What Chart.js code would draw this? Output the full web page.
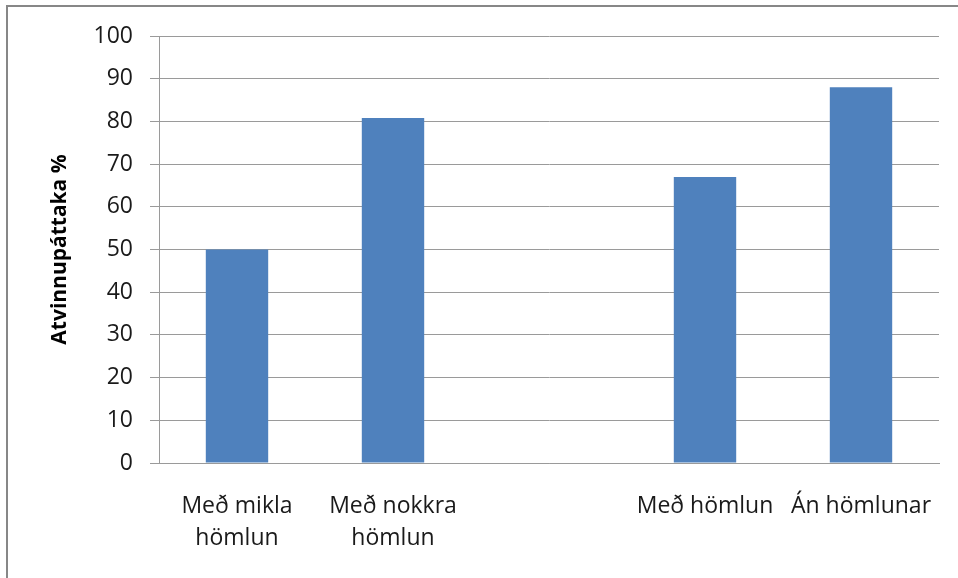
<!DOCTYPE html>
<html>
<head>
<meta charset="utf-8">
<script src="https://cdn.jsdelivr.net/npm/chart.js@4.4.1/dist/chart.umd.min.js"></script>
<style>
    html, body { margin: 0; padding: 0; background: #fff; }
    #wrap { position: relative; width: 958px; height: 578px; overflow: hidden; }
    #frame { position: absolute; left: 6px; top: 5px; width: 1100px; height: 800px; border: 2px solid #878787; }
    #app-chart { position: absolute; left: 0; top: 0; }
</style>
</head>
<body>
<div id="wrap">
    <div id="frame"></div>
    <canvas id="app-chart" width="958" height="578"></canvas>
</div>
<script>
//======================================================================================================================
// Data
//======================================================================================================================

var categories = [
    ['Með mikla', 'hömlun'],
    ['Með nokkra', 'hömlun'],
    '',
    'Með hömlun',
    'Án hömlunar'
];
var values = [50, 80.8, null, 67, 88];
var yTicks = [0, 10, 20, 30, 40, 50, 60, 70, 80, 90, 100];

//======================================================================================================================
// Chart
//======================================================================================================================

var font = '"Open Sans", "Liberation Sans", sans-serif';

new Chart(document.getElementById('app-chart'), {
    type: 'bar',
    data: {
        labels: categories,
        datasets: [{
            data: values,
            backgroundColor: '#4f81bd',
            borderWidth: 0,
            barPercentage: 0.4,
            categoryPercentage: 1
        }]
    },
    options: {
        responsive: false,
        animation: false,
        layout: {
            padding: { left: 0, top: 36, right: 19, bottom: 0 }
        },
        plugins: {
            legend: { display: false },
            tooltip: { enabled: false }
        },
        scales: {
            x: {
                grid: { display: false },
                border: { display: true, color: '#9a9a9a', width: 1 },
                ticks: {
                    color: '#1a1a1a',
                    padding: 19,
                    maxRotation: 0,
                    autoSkip: false,
                    font: { family: font, size: 23, lineHeight: 1.4 }
                },
                afterFit: function(scale) { scale.height = 115; }
            },
            y: {
                min: 0,
                max: 100,
                afterBuildTicks: function(scale) {
                    scale.ticks = yTicks.map(function(v) { return { value: v }; });
                },
                grid: { color: '#9a9a9a', lineWidth: 1, tickLength: 9 },
                border: { display: true, color: '#9a9a9a', width: 1 },
                ticks: {
                    color: '#1a1a1a',
                    padding: 17,
                    font: { family: font, size: 23 }
                },
                title: {
                    display: true,
                    text: 'Atvinnupáttaka %',
                    color: '#000',
                    padding: { top: 47, bottom: 0 },
                    font: { family: font, size: 21, weight: 'bold' }
                },
                afterFit: function(scale) { scale.width = 159; }
            }
        }
    }
});
</script>
</body>
</html>
